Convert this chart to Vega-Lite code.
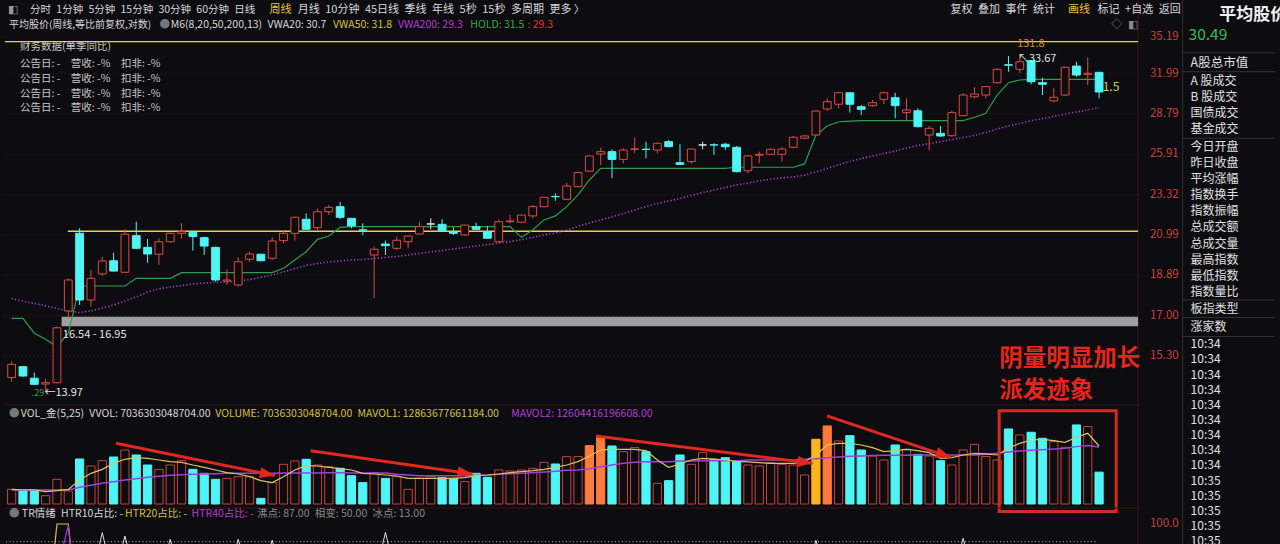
{
  "$schema": "https://vega.github.io/schema/vega-lite/v6.json",
  "description": "平均股价 周线 K线 + VOL_金 + TR情绪",
  "width": 1280,
  "height": 544,
  "padding": 0,
  "autosize": {"type": "none"},
  "background": "#0d0c10",
  "config": {"view": {"stroke": null}, "font": "Noto Sans CJK SC"},
  "datasets": {
    "k": [
      {"i":0,"o":14.46,"h":15.08,"l":14.31,"c":14.97,"hold":16.88,"vwa":17.78,"vol":3.24,"m5":3.24,"m25":3.1,"t10":58,"t20":20,"t40":20},
      {"i":1,"o":14.88,"h":14.9,"l":14.49,"c":14.52,"hold":16.88,"vwa":17.66,"vol":2.87,"m5":3.1,"m25":3.1,"t10":58,"t20":20,"t40":20},
      {"i":2,"o":14.44,"h":14.65,"l":14.19,"c":14.21,"hold":16.24,"vwa":17.55,"vol":2.87,"m5":3.1,"m25":3.1,"t10":58,"t20":20,"t40":20},
      {"i":3,"o":14.22,"h":14.4,"l":13.97,"c":14.27,"hold":15.98,"vwa":17.44,"vol":1.84,"m5":2.73,"m25":3.1,"t10":58,"t20":20,"t40":20},
      {"i":4,"o":14.27,"h":16.52,"l":14.24,"c":16.47,"hold":15.68,"vwa":17.32,"vol":5.45,"m5":2.95,"m25":3.1,"t10":58,"t20":100,"t40":65},
      {"i":5,"o":17.21,"h":18.74,"l":16.88,"c":18.66,"hold":16.24,"vwa":17.21,"vol":2.87,"m5":3.24,"m25":3.1,"t10":58,"t20":100,"t40":99},
      {"i":6,"o":21.08,"h":21.36,"l":17.48,"c":17.71,"hold":18.37,"vwa":17.14,"vol":9.95,"m5":5.31,"m25":3.69,"t10":58,"t20":20,"t40":20},
      {"i":7,"o":17.71,"h":19.15,"l":17.4,"c":18.74,"hold":18.37,"vwa":17.21,"vol":8.4,"m5":6.78,"m25":4.13,"t10":58,"t20":20,"t40":20},
      {"i":8,"o":18.96,"h":19.83,"l":18.86,"c":19.61,"hold":18.37,"vwa":17.34,"vol":9.58,"m5":7.66,"m25":4.57,"t10":93.6,"t20":20,"t40":20},
      {"i":9,"o":19.62,"h":20.04,"l":19.08,"c":19.1,"hold":18.37,"vwa":17.48,"vol":10.39,"m5":8.99,"m25":4.94,"t10":58,"t20":20,"t40":20},
      {"i":10,"o":19.04,"h":21.3,"l":19.02,"c":21.03,"hold":18.37,"vwa":17.66,"vol":11.94,"m5":9.88,"m25":5.31,"t10":91.2,"t20":20,"t40":20},
      {"i":11,"o":20.95,"h":21.73,"l":20.25,"c":20.27,"hold":18.74,"vwa":17.85,"vol":10.83,"m5":10.24,"m25":5.6,"t10":58,"t20":20,"t40":20},
      {"i":12,"o":20.32,"h":20.77,"l":19.52,"c":19.97,"hold":18.74,"vwa":18.08,"vol":8.62,"m5":10.1,"m25":5.9,"t10":58,"t20":20,"t40":20},
      {"i":13,"o":19.96,"h":20.81,"l":19.41,"c":20.62,"hold":18.74,"vwa":18.23,"vol":7.66,"m5":9.73,"m25":6.12,"t10":58,"t20":20,"t40":20},
      {"i":14,"o":20.62,"h":21.11,"l":20.57,"c":21.08,"hold":18.74,"vwa":18.32,"vol":8.62,"m5":9.36,"m25":6.34,"t10":88.8,"t20":20,"t40":20},
      {"i":15,"o":21.08,"h":21.64,"l":20.77,"c":21.17,"hold":19.02,"vwa":18.39,"vol":9.58,"m5":9.21,"m25":6.49,"t10":58,"t20":20,"t40":20},
      {"i":16,"o":21.14,"h":21.17,"l":20.14,"c":20.9,"hold":19.02,"vwa":18.47,"vol":7.66,"m5":8.62,"m25":6.56,"t10":58,"t20":20,"t40":20},
      {"i":17,"o":20.84,"h":20.9,"l":19.92,"c":20.39,"hold":19.02,"vwa":18.51,"vol":6.78,"m5":8.11,"m25":6.63,"t10":58,"t20":20,"t40":20},
      {"i":18,"o":20.32,"h":20.36,"l":18.58,"c":18.66,"hold":19.02,"vwa":18.54,"vol":5.45,"m5":7.52,"m25":6.71,"t10":58,"t20":20,"t40":20},
      {"i":19,"o":18.61,"h":19.19,"l":18.42,"c":18.66,"hold":19.02,"vwa":18.56,"vol":5.67,"m5":6.93,"m25":6.78,"t10":58,"t20":20,"t40":20},
      {"i":20,"o":18.42,"h":19.8,"l":18.34,"c":19.57,"hold":19.02,"vwa":18.61,"vol":6.04,"m5":6.63,"m25":6.78,"t10":88.8,"t20":20,"t40":20},
      {"i":21,"o":19.7,"h":20.09,"l":19.57,"c":19.97,"hold":19.02,"vwa":18.68,"vol":6.04,"m5":6.04,"m25":6.78,"t10":58,"t20":20,"t40":20},
      {"i":22,"o":19.96,"h":19.97,"l":19.61,"c":19.62,"hold":19.02,"vwa":18.78,"vol":1.25,"m5":5.16,"m25":6.78,"t10":58,"t20":20,"t40":20},
      {"i":23,"o":19.75,"h":20.86,"l":19.66,"c":20.66,"hold":19.02,"vwa":18.91,"vol":4.72,"m5":4.72,"m25":6.78,"t10":88.2,"t20":20,"t40":20},
      {"i":24,"o":20.68,"h":21.21,"l":20.54,"c":21.08,"hold":19.24,"vwa":19.05,"vol":8.77,"m5":6.04,"m25":6.85,"t10":58,"t20":20,"t40":20},
      {"i":25,"o":21.08,"h":22.02,"l":20.68,"c":21.98,"hold":19.66,"vwa":19.23,"vol":9.51,"m5":7.52,"m25":6.85,"t10":58,"t20":20,"t40":20},
      {"i":26,"o":21.87,"h":22.21,"l":21.26,"c":21.3,"hold":20.09,"vwa":19.38,"vol":9.88,"m5":8.48,"m25":6.85,"t10":58,"t20":20,"t40":20},
      {"i":27,"o":21.39,"h":22.5,"l":21.22,"c":22.3,"hold":20.75,"vwa":19.48,"vol":8.62,"m5":8.4,"m25":6.85,"t10":58,"t20":20,"t40":20},
      {"i":28,"o":22.3,"h":22.7,"l":22.11,"c":22.56,"hold":20.93,"vwa":19.56,"vol":8.25,"m5":8.11,"m25":6.93,"t10":58,"t20":20,"t40":20},
      {"i":29,"o":22.6,"h":22.89,"l":21.88,"c":21.98,"hold":21.41,"vwa":19.61,"vol":7.89,"m5":7.81,"m25":6.93,"t10":58,"t20":20,"t40":20},
      {"i":30,"o":21.92,"h":21.95,"l":21.36,"c":21.49,"hold":21.45,"vwa":19.66,"vol":6.26,"m5":7.52,"m25":6.85,"t10":58,"t20":20,"t40":20},
      {"i":31,"o":21.27,"h":21.64,"l":20.99,"c":21.26,"hold":21.45,"vwa":19.69,"vol":4.72,"m5":6.78,"m25":6.85,"t10":58,"t20":20,"t40":20},
      {"i":32,"o":19.92,"h":20.36,"l":17.79,"c":20.22,"hold":21.45,"vwa":19.74,"vol":6.93,"m5":6.63,"m25":6.85,"t10":58,"t20":20,"t40":20},
      {"i":33,"o":20.5,"h":20.68,"l":19.92,"c":20.41,"hold":21.45,"vwa":19.79,"vol":5.67,"m5":6.41,"m25":6.85,"t10":93.9,"t20":20,"t40":20},
      {"i":34,"o":20.27,"h":20.9,"l":20.18,"c":20.7,"hold":21.45,"vwa":19.84,"vol":6.04,"m5":6.19,"m25":6.56,"t10":58,"t20":20,"t40":20},
      {"i":35,"o":20.62,"h":20.95,"l":20.27,"c":20.93,"hold":21.45,"vwa":19.92,"vol":3.24,"m5":5.67,"m25":6.41,"t10":58,"t20":20,"t40":20},
      {"i":36,"o":21.04,"h":21.73,"l":21.02,"c":21.45,"hold":21.45,"vwa":20.0,"vol":5.67,"m5":5.67,"m25":6.23,"t10":58,"t20":20,"t40":20},
      {"i":37,"o":21.6,"h":21.92,"l":21.3,"c":21.6,"hold":21.45,"vwa":20.08,"vol":6.04,"m5":5.67,"m25":6.23,"t10":58,"t20":20,"t40":20},
      {"i":38,"o":21.58,"h":21.87,"l":21.21,"c":21.22,"hold":21.45,"vwa":20.15,"vol":5.82,"m5":5.67,"m25":6.23,"t10":58,"t20":20,"t40":20},
      {"i":39,"o":21.17,"h":21.41,"l":20.99,"c":21.08,"hold":21.45,"vwa":20.23,"vol":5.67,"m5":5.67,"m25":6.23,"t10":58,"t20":20,"t40":20},
      {"i":40,"o":20.99,"h":21.55,"l":20.93,"c":21.54,"hold":21.45,"vwa":20.31,"vol":4.94,"m5":5.82,"m25":6.26,"t10":58,"t20":20,"t40":20},
      {"i":41,"o":21.45,"h":21.67,"l":21.26,"c":21.3,"hold":21.45,"vwa":20.39,"vol":6.78,"m5":6.26,"m25":6.34,"t10":58,"t20":20,"t40":20},
      {"i":42,"o":21.17,"h":21.49,"l":20.8,"c":20.81,"hold":21.45,"vwa":20.47,"vol":5.9,"m5":6.41,"m25":6.41,"t10":58,"t20":20,"t40":20},
      {"i":43,"o":20.62,"h":21.83,"l":20.57,"c":21.73,"hold":21.45,"vwa":20.55,"vol":7.52,"m5":6.63,"m25":6.56,"t10":58,"t20":20,"t40":20},
      {"i":44,"o":21.73,"h":22.11,"l":21.64,"c":21.77,"hold":21.45,"vwa":20.63,"vol":7.3,"m5":6.93,"m25":6.71,"t10":58,"t20":20,"t40":20},
      {"i":45,"o":21.7,"h":22.12,"l":21.64,"c":22.11,"hold":20.86,"vwa":20.74,"vol":7.52,"m5":7.15,"m25":6.78,"t10":58,"t20":20,"t40":20},
      {"i":46,"o":22.06,"h":22.7,"l":21.92,"c":22.6,"hold":21.26,"vwa":20.85,"vol":7.89,"m5":7.37,"m25":6.93,"t10":58,"t20":20,"t40":20},
      {"i":47,"o":22.6,"h":23.17,"l":22.56,"c":23.16,"hold":21.83,"vwa":20.99,"vol":9.21,"m5":7.66,"m25":7.08,"t10":58,"t20":20,"t40":20},
      {"i":48,"o":23.21,"h":23.4,"l":22.95,"c":23.19,"hold":22.06,"vwa":21.1,"vol":8.84,"m5":8.11,"m25":7.22,"t10":58,"t20":20,"t40":20},
      {"i":49,"o":23.04,"h":24.06,"l":22.99,"c":23.85,"hold":22.6,"vwa":21.26,"vol":10.47,"m5":8.62,"m25":7.44,"t10":58,"t20":20,"t40":20},
      {"i":50,"o":23.81,"h":24.76,"l":23.77,"c":24.7,"hold":23.3,"vwa":21.46,"vol":10.47,"m5":9.36,"m25":7.52,"t10":58,"t20":20,"t40":20},
      {"i":51,"o":24.8,"h":25.81,"l":24.76,"c":25.8,"hold":24.23,"vwa":21.66,"vol":12.9,"m5":10.61,"m25":7.81,"t10":58,"t20":20,"t40":20,"flag":"倍量"},
      {"i":52,"o":25.93,"h":26.36,"l":25.2,"c":26.09,"hold":24.98,"vwa":21.83,"vol":14.89,"m5":11.94,"m25":8.25,"t10":58,"t20":20,"t40":20,"flag":"倍量"},
      {"i":53,"o":26.09,"h":26.25,"l":24.34,"c":25.57,"hold":24.98,"vwa":22.0,"vol":12.82,"m5":12.09,"m25":8.62,"t10":58,"t20":20,"t40":20},
      {"i":54,"o":25.57,"h":26.32,"l":25.31,"c":26.2,"hold":24.98,"vwa":22.2,"vol":11.57,"m5":12.09,"m25":8.99,"t10":58,"t20":20,"t40":20},
      {"i":55,"o":26.25,"h":27.06,"l":26.02,"c":26.28,"hold":24.98,"vwa":22.4,"vol":12.46,"m5":12.09,"m25":9.21,"t10":58,"t20":20,"t40":20},
      {"i":56,"o":26.26,"h":26.78,"l":25.64,"c":26.24,"hold":24.98,"vwa":22.61,"vol":11.57,"m5":11.79,"m25":9.36,"t10":58,"t20":20,"t40":20},
      {"i":57,"o":26.2,"h":26.71,"l":25.98,"c":26.67,"hold":24.98,"vwa":22.79,"vol":4.57,"m5":9.73,"m25":9.36,"t10":58,"t20":20,"t40":20},
      {"i":58,"o":26.78,"h":26.9,"l":26.39,"c":26.43,"hold":24.98,"vwa":22.93,"vol":5.16,"m5":8.11,"m25":9.36,"t10":58,"t20":20,"t40":20},
      {"i":59,"o":25.35,"h":26.6,"l":25.2,"c":25.24,"hold":24.98,"vwa":23.09,"vol":10.83,"m5":8.84,"m25":9.51,"t10":58,"t20":20,"t40":20},
      {"i":60,"o":25.42,"h":26.32,"l":25.26,"c":26.27,"hold":24.98,"vwa":23.27,"vol":8.77,"m5":9.73,"m25":9.51,"t10":58,"t20":20,"t40":20},
      {"i":61,"o":26.55,"h":26.78,"l":26.25,"c":26.55,"hold":24.98,"vwa":23.45,"vol":11.35,"m5":10.1,"m25":9.55,"t10":58,"t20":20,"t40":20},
      {"i":62,"o":26.56,"h":26.67,"l":25.87,"c":26.55,"hold":24.98,"vwa":23.6,"vol":9.88,"m5":9.95,"m25":9.55,"t10":58,"t20":20,"t40":20},
      {"i":63,"o":26.6,"h":26.71,"l":26.2,"c":26.43,"hold":24.98,"vwa":23.76,"vol":10.24,"m5":9.73,"m25":9.58,"t10":58,"t20":20,"t40":20},
      {"i":64,"o":26.39,"h":26.48,"l":24.72,"c":24.76,"hold":25.05,"vwa":23.92,"vol":9.36,"m5":9.43,"m25":9.58,"t10":58,"t20":20,"t40":20},
      {"i":65,"o":24.82,"h":25.87,"l":24.66,"c":25.8,"hold":25.05,"vwa":24.04,"vol":8.62,"m5":9.29,"m25":9.73,"t10":58,"t20":20,"t40":20},
      {"i":66,"o":25.85,"h":26.09,"l":25.31,"c":25.91,"hold":25.05,"vwa":24.17,"vol":8.4,"m5":9.14,"m25":9.73,"t10":58,"t20":20,"t40":20},
      {"i":67,"o":25.91,"h":26.32,"l":25.88,"c":26.25,"hold":25.05,"vwa":24.29,"vol":9.14,"m5":8.99,"m25":9.73,"t10":58,"t20":20,"t40":20},
      {"i":68,"o":25.91,"h":26.39,"l":25.42,"c":26.27,"hold":25.05,"vwa":24.36,"vol":8.77,"m5":8.99,"m25":9.73,"t10":58,"t20":20,"t40":20},
      {"i":69,"o":26.39,"h":27.18,"l":26.32,"c":27.09,"hold":25.05,"vwa":24.42,"vol":8.62,"m5":8.99,"m25":9.73,"t10":58,"t20":20,"t40":20},
      {"i":70,"o":27.02,"h":27.25,"l":26.95,"c":27.18,"hold":25.27,"vwa":24.55,"vol":6.41,"m5":9.36,"m25":9.88,"t10":58,"t20":20,"t40":20},
      {"i":71,"o":27.25,"h":29.09,"l":27.2,"c":29.01,"hold":27.25,"vwa":24.74,"vol":14.3,"m5":10.83,"m25":10.02,"t10":88,"t20":20,"t40":20,"flag":"天量"},
      {"i":72,"o":29.17,"h":29.99,"l":29.03,"c":29.73,"hold":27.9,"vwa":24.97,"vol":17.25,"m5":13.04,"m25":10.24,"t10":58,"t20":20,"t40":20,"flag":"倍量"},
      {"i":73,"o":29.53,"h":30.51,"l":29.22,"c":30.43,"hold":28.21,"vwa":25.2,"vol":13.93,"m5":13.41,"m25":10.39,"t10":58,"t20":20,"t40":20},
      {"i":74,"o":30.43,"h":30.45,"l":28.89,"c":29.53,"hold":28.26,"vwa":25.43,"vol":15.11,"m5":13.41,"m25":10.54,"t10":58,"t20":20,"t40":20},
      {"i":75,"o":29.34,"h":29.47,"l":28.71,"c":29.14,"hold":28.3,"vwa":25.63,"vol":11.94,"m5":13.04,"m25":10.61,"t10":58,"t20":20,"t40":20},
      {"i":76,"o":29.42,"h":29.86,"l":29.34,"c":29.65,"hold":28.3,"vwa":25.8,"vol":10.61,"m5":12.46,"m25":10.7,"t10":58,"t20":20,"t40":20},
      {"i":77,"o":29.91,"h":30.51,"l":29.55,"c":30.43,"hold":28.3,"vwa":25.97,"vol":9.73,"m5":11.57,"m25":10.75,"t10":58,"t20":20,"t40":20},
      {"i":78,"o":30.04,"h":30.43,"l":28.47,"c":29.42,"hold":28.3,"vwa":26.13,"vol":13.04,"m5":11.79,"m25":10.78,"t10":58,"t20":20,"t40":20},
      {"i":79,"o":28.89,"h":29.99,"l":28.34,"c":29.09,"hold":28.3,"vwa":26.34,"vol":12.09,"m5":12.09,"m25":10.8,"t10":58,"t20":20,"t40":20},
      {"i":80,"o":29.03,"h":29.22,"l":27.8,"c":27.85,"hold":28.3,"vwa":26.52,"vol":10.98,"m5":11.79,"m25":10.83,"t10":58,"t20":20,"t40":20},
      {"i":81,"o":27.25,"h":27.9,"l":26.2,"c":27.73,"hold":28.3,"vwa":26.65,"vol":10.61,"m5":11.35,"m25":10.83,"t10":58,"t20":20,"t40":20},
      {"i":82,"o":27.37,"h":27.9,"l":27.13,"c":27.18,"hold":28.3,"vwa":26.79,"vol":9.58,"m5":10.1,"m25":10.83,"t10":58,"t20":20,"t40":20},
      {"i":83,"o":27.2,"h":29.04,"l":27.13,"c":28.89,"hold":28.3,"vwa":26.93,"vol":8.62,"m5":10.24,"m25":10.83,"t10":58,"t20":20,"t40":20},
      {"i":84,"o":28.66,"h":30.39,"l":28.64,"c":30.25,"hold":28.3,"vwa":27.07,"vol":11.94,"m5":10.83,"m25":10.83,"t10":89.5,"t20":20,"t40":20},
      {"i":85,"o":30.11,"h":30.87,"l":29.99,"c":30.33,"hold":28.54,"vwa":27.22,"vol":13.19,"m5":11.2,"m25":10.83,"t10":58,"t20":20,"t40":20},
      {"i":86,"o":30.25,"h":30.97,"l":29.99,"c":30.92,"hold":28.84,"vwa":27.43,"vol":10.47,"m5":11.06,"m25":10.98,"t10":58,"t20":20,"t40":20},
      {"i":87,"o":31.24,"h":32.44,"l":31.19,"c":32.35,"hold":30.25,"vwa":27.68,"vol":9.73,"m5":10.83,"m25":11.2,"t10":58,"t20":20,"t40":20},
      {"i":88,"o":32.74,"h":33.5,"l":32.15,"c":32.7,"hold":31.24,"vwa":27.9,"vol":16.58,"m5":12.31,"m25":11.5,"t10":58,"t20":20,"t40":20},
      {"i":89,"o":32.35,"h":33.67,"l":32.02,"c":33.0,"hold":31.46,"vwa":28.08,"vol":15.26,"m5":13.41,"m25":11.72,"t10":58,"t20":20,"t40":20},
      {"i":90,"o":33.09,"h":33.15,"l":31.11,"c":31.32,"hold":31.51,"vwa":28.3,"vol":15.85,"m5":14.15,"m25":11.87,"t10":58,"t20":20,"t40":20},
      {"i":91,"o":31.24,"h":31.65,"l":30.25,"c":31.11,"hold":31.51,"vwa":28.45,"vol":14.52,"m5":14.3,"m25":12.01,"t10":58,"t20":20,"t40":20},
      {"i":92,"o":29.8,"h":30.79,"l":29.65,"c":30.07,"hold":31.51,"vwa":28.6,"vol":13.78,"m5":14.0,"m25":12.16,"t10":58,"t20":20,"t40":20},
      {"i":93,"o":30.25,"h":32.57,"l":30.17,"c":32.52,"hold":31.51,"vwa":28.79,"vol":12.53,"m5":13.63,"m25":12.31,"t10":58,"t20":20,"t40":20},
      {"i":94,"o":32.63,"h":33.0,"l":31.73,"c":31.87,"hold":31.51,"vwa":28.94,"vol":17.47,"m5":14.74,"m25":12.68,"t10":58,"t20":20,"t40":20},
      {"i":95,"o":31.93,"h":33.38,"l":31.05,"c":32.02,"hold":31.51,"vwa":29.09,"vol":17.1,"m5":15.62,"m25":12.9,"t10":58,"t20":20,"t40":20},
      {"i":96,"o":32.1,"h":32.12,"l":29.99,"c":30.49,"hold":31.51,"vwa":29.28,"vol":7.04,"m5":12.82,"m25":12.6,"t10":58,"t20":20,"t40":20}
    ],
    "arrows": [
      {"a":1,"i0":9.21,"v0":13.42,"i1":23.24,"v1":6.3},
      {"a":2,"i0":26.39,"v0":11.78,"i1":40.69,"v1":6.63},
      {"a":3,"i0":51.59,"v0":15.03,"i1":70.7,"v1":9.0},
      {"a":4,"i0":71.98,"v0":19.46,"i1":82.9,"v1":10.32}
    ],
    "ticks": [{"p":15.3},{"p":17},{"p":18.89},{"p":20.99},{"p":23.32},{"p":25.91},{"p":28.79},{"p":31.99},{"p":35.19}]
  },
  "data": {"name": "k"},
  "layer": [
    {
      "layer": [
        {"data": {"values": [{}]}, "mark": {"type": "rule", "color": "#3a1616", "strokeWidth": 1},
         "encoding": {"x": {"datum": 99.44, "type": "quantitative", "scale": {"domain": [-0.587, 111.53], "nice": false, "zero": false}, "axis": null}}},
        {"data": {"values": [{}]}, "mark": {"type": "rule", "color": "#2e2e30", "strokeWidth": 1},
         "encoding": {"x": {"datum": 103.38, "type": "quantitative", "scale": {"domain": [-0.587, 111.53], "nice": false, "zero": false}, "axis": null}}},
        {"data": {"name": "ticks"}, "mark": {"type": "rule", "color": "#3a2020", "strokeWidth": 1, "strokeDash": [1, 3]},
         "encoding": {
           "x": {"datum": -0.587, "type": "quantitative", "scale": {"domain": [-0.587, 111.53], "nice": false, "zero": false}, "axis": null},
           "x2": {"datum": 99.44},
           "y": {"field": "p", "type": "quantitative", "scale": {"type": "log", "domain": [13.8, 36], "range": [395.5, 28.4], "nice": false}, "axis": null}}},
        {"data": {"values": [{}]}, "mark": {"type": "rule", "color": "#333336", "strokeWidth": 1},
         "encoding": {
           "x": {"datum": 103.38, "type": "quantitative", "scale": {"domain": [-0.587, 111.53], "nice": false, "zero": false}, "axis": null},
           "x2": {"datum": 111.53},
           "y": {"datum": 33.78, "type": "quantitative", "scale": {"type": "log", "domain": [13.8, 36], "range": [395.5, 28.4], "nice": false}, "axis": null}}},
        {"data": {"values": [{}]}, "mark": {"type": "rule", "color": "#333336", "strokeWidth": 1},
         "encoding": {
           "x": {"datum": 103.38, "type": "quantitative", "scale": {"domain": [-0.587, 111.53], "nice": false, "zero": false}, "axis": null},
           "x2": {"datum": 111.53},
           "y": {"datum": 32.15, "type": "quantitative", "scale": {"type": "log", "domain": [13.8, 36], "range": [395.5, 28.4], "nice": false}, "axis": null}}},
        {"data": {"values": [{}]}, "mark": {"type": "rule", "color": "#333336", "strokeWidth": 1},
         "encoding": {
           "x": {"datum": 103.38, "type": "quantitative", "scale": {"domain": [-0.587, 111.53], "nice": false, "zero": false}, "axis": null},
           "x2": {"datum": 111.53},
           "y": {"datum": 27.02, "type": "quantitative", "scale": {"type": "log", "domain": [13.8, 36], "range": [395.5, 28.4], "nice": false}, "axis": null}}},
        {"data": {"values": [{}]}, "mark": {"type": "rule", "color": "#333336", "strokeWidth": 1},
         "encoding": {
           "x": {"datum": 103.38, "type": "quantitative", "scale": {"domain": [-0.587, 111.53], "nice": false, "zero": false}, "axis": null},
           "x2": {"datum": 111.53},
           "y": {"datum": 17.71, "type": "quantitative", "scale": {"type": "log", "domain": [13.8, 36], "range": [395.5, 28.4], "nice": false}, "axis": null}}},
        {"data": {"values": [{}]}, "mark": {"type": "rule", "color": "#333336", "strokeWidth": 1},
         "encoding": {
           "x": {"datum": 103.38, "type": "quantitative", "scale": {"domain": [-0.587, 111.53], "nice": false, "zero": false}, "axis": null},
           "x2": {"datum": 111.53},
           "y": {"datum": 16.92, "type": "quantitative", "scale": {"type": "log", "domain": [13.8, 36], "range": [395.5, 28.4], "nice": false}, "axis": null}}},
        {"data": {"values": [{}]}, "mark": {"type": "rule", "color": "#333336", "strokeWidth": 1},
         "encoding": {
           "x": {"datum": 103.38, "type": "quantitative", "scale": {"domain": [-0.587, 111.53], "nice": false, "zero": false}, "axis": null},
           "x2": {"datum": 111.53},
           "y": {"datum": 16.1, "type": "quantitative", "scale": {"type": "log", "domain": [13.8, 36], "range": [395.5, 28.4], "nice": false}, "axis": null}}},
        {"data": {"values": [{}]}, "mark": {"type": "rect", "color": "#9f9f9f"},
         "encoding": {
           "x": {"datum": 4.41, "type": "quantitative", "scale": {"domain": [-0.587, 111.53], "nice": false, "zero": false}, "axis": null},
           "x2": {"datum": 99.44},
           "y": {"datum": 16.54, "type": "quantitative", "scale": {"type": "log", "domain": [13.8, 36], "range": [395.5, 28.4], "nice": false}, "axis": null},
           "y2": {"datum": 16.95}}},
        {"data": {"values": [{}]}, "mark": {"type": "rule", "color": "#e5d540", "strokeWidth": 1.4},
         "encoding": {
           "x": {"datum": -0.587, "type": "quantitative", "scale": {"domain": [-0.587, 111.53], "nice": false, "zero": false}, "axis": null},
           "x2": {"datum": 99.44},
           "y": {"datum": 34.78, "type": "quantitative", "scale": {"type": "log", "domain": [13.8, 36], "range": [395.5, 28.4], "nice": false}, "axis": null}}},
        {"data": {"values": [{}]}, "mark": {"type": "rule", "color": "#e5d540", "strokeWidth": 1.4},
         "encoding": {
           "x": {"datum": 4.96, "type": "quantitative", "scale": {"domain": [-0.587, 111.53], "nice": false, "zero": false}, "axis": null},
           "x2": {"datum": 99.44},
           "y": {"datum": 21.19, "type": "quantitative", "scale": {"type": "log", "domain": [13.8, 36], "range": [395.5, 28.4], "nice": false}, "axis": null}}},
        {"data": {"values": [{}]}, "mark": {"type": "text", "text": "31.5", "align": "left", "baseline": "middle", "fontSize": 12, "color": "#c8d24a"},
         "encoding": {
           "x": {"datum": 95.73, "type": "quantitative", "scale": {"domain": [-0.587, 111.53], "nice": false, "zero": false}, "axis": null},
           "y": {"datum": 30.89, "type": "quantitative", "scale": {"type": "log", "domain": [13.8, 36], "range": [395.5, 28.4], "nice": false}, "axis": null}}},
        {"mark": {"type": "line", "color": "#b040d8", "strokeWidth": 1.6, "strokeDash": [1.2, 2.2]},
         "encoding": {
           "x": {"field": "i", "type": "quantitative", "scale": {"domain": [-0.587, 111.53], "nice": false, "zero": false}, "axis": null},
           "y": {"field": "vwa", "type": "quantitative", "scale": {"type": "log", "domain": [13.8, 36], "range": [395.5, 28.4], "nice": false}, "axis": null}}},
        {"mark": {"type": "line", "color": "#2f9e4a", "strokeWidth": 1.2},
         "encoding": {
           "x": {"field": "i", "type": "quantitative", "scale": {"domain": [-0.587, 111.53], "nice": false, "zero": false}, "axis": null},
           "y": {"field": "hold", "type": "quantitative", "scale": {"type": "log", "domain": [13.8, 36], "range": [395.5, 28.4], "nice": false}, "axis": null}}},
        {"mark": {"type": "rule", "strokeWidth": 1},
         "encoding": {
           "x": {"field": "i", "type": "quantitative", "scale": {"domain": [-0.587, 111.53], "nice": false, "zero": false}, "axis": null},
           "y": {"field": "l", "type": "quantitative", "scale": {"type": "log", "domain": [13.8, 36], "range": [395.5, 28.4], "nice": false}, "axis": null},
           "y2": {"field": "h"},
           "color": {"condition": [{"test": "datum.c < datum.o", "value": "#4ff5f5"}, {"test": "datum.c == datum.o", "value": "#e6e6e6"}], "value": "#e04a3f"}}},
        {"mark": {"type": "bar", "width": 7.8, "strokeWidth": 1, "orient": "vertical"},
         "encoding": {
           "x": {"field": "i", "type": "quantitative", "scale": {"domain": [-0.587, 111.53], "nice": false, "zero": false}, "axis": null},
           "y": {"field": "o", "type": "quantitative", "scale": {"type": "log", "domain": [13.8, 36], "range": [395.5, 28.4], "nice": false}, "axis": null},
           "y2": {"field": "c"},
           "fill": {"condition": [{"test": "datum.c < datum.o", "value": "#4ff5f5"}, {"test": "datum.c == datum.o", "value": "#e6e6e6"}], "value": "#0d0c10"},
           "stroke": {"condition": [{"test": "datum.c < datum.o", "value": "#4ff5f5"}, {"test": "datum.c == datum.o", "value": "#e6e6e6"}], "value": "#e04a3f"}}},
        {"data": {"name": "ticks"}, "mark": {"type": "text", "align": "right", "baseline": "middle", "fontSize": 11.5, "color": "#c8423c"},
         "encoding": {
           "x": {"datum": 103.03, "type": "quantitative", "scale": {"domain": [-0.587, 111.53], "nice": false, "zero": false}, "axis": null},
           "y": {"field": "p", "type": "quantitative", "scale": {"type": "log", "domain": [13.8, 36], "range": [395.5, 28.4], "nice": false}, "axis": null},
           "text": {"field": "p", "type": "quantitative", "format": ".2f"}}},
        {"data": {"values": [{}]}, "mark": {"type": "text", "text": "◧", "align": "left", "baseline": "middle", "fontSize": 11, "color": "#9a9a9a"},
         "encoding": {
           "x": {"datum": -0.3, "type": "quantitative", "scale": {"domain": [-0.587, 111.53], "nice": false, "zero": false}, "axis": null},
           "y": {"datum": 37.77, "type": "quantitative", "scale": {"type": "log", "domain": [13.8, 36], "range": [395.5, 28.4], "nice": false}, "axis": null}}},
        {"data": {"values": [{}]}, "mark": {"type": "text", "text": "分时\u20021分钟\u20025分钟\u200215分钟\u200230分钟\u200260分钟\u2002日线", "align": "left", "baseline": "middle", "fontSize": 10.5, "color": "#d8d8d8"},
         "encoding": {
           "x": {"datum": 1.63, "type": "quantitative", "scale": {"domain": [-0.587, 111.53], "nice": false, "zero": false}, "axis": null},
           "y": {"datum": 37.77, "type": "quantitative", "scale": {"type": "log", "domain": [13.8, 36], "range": [395.5, 28.4], "nice": false}, "axis": null}}},
        {"data": {"values": [{}]}, "mark": {"type": "text", "text": "周线", "align": "left", "baseline": "middle", "fontSize": 11, "color": "#e3c33a"},
         "encoding": {
           "x": {"datum": 22.76, "type": "quantitative", "scale": {"domain": [-0.587, 111.53], "nice": false, "zero": false}, "axis": null},
           "y": {"datum": 37.77, "type": "quantitative", "scale": {"type": "log", "domain": [13.8, 36], "range": [395.5, 28.4], "nice": false}, "axis": null}}},
        {"data": {"values": [{}]}, "mark": {"type": "text", "text": "月线\u200210分钟\u200245日线\u2002季线\u2002年线\u20025秒\u200215秒\u2002多周期\u2002更多 〉", "align": "left", "baseline": "middle", "fontSize": 11, "color": "#d8d8d8"},
         "encoding": {
           "x": {"datum": 25.25, "type": "quantitative", "scale": {"domain": [-0.587, 111.53], "nice": false, "zero": false}, "axis": null},
           "y": {"datum": 37.77, "type": "quantitative", "scale": {"type": "log", "domain": [13.8, 36], "range": [395.5, 28.4], "nice": false}, "axis": null}}},
        {"data": {"values": [{}]}, "mark": {"type": "text", "text": "复权\u2002叠加\u2002事件\u2002统计", "align": "left", "baseline": "middle", "fontSize": 11, "color": "#d8d8d8"},
         "encoding": {
           "x": {"datum": 82.89, "type": "quantitative", "scale": {"domain": [-0.587, 111.53], "nice": false, "zero": false}, "axis": null},
           "y": {"datum": 37.77, "type": "quantitative", "scale": {"type": "log", "domain": [13.8, 36], "range": [395.5, 28.4], "nice": false}, "axis": null}}},
        {"data": {"values": [{}]}, "mark": {"type": "text", "text": "画线", "align": "left", "baseline": "middle", "fontSize": 11, "color": "#e3c33a"},
         "encoding": {
           "x": {"datum": 93.25, "type": "quantitative", "scale": {"domain": [-0.587, 111.53], "nice": false, "zero": false}, "axis": null},
           "y": {"datum": 37.77, "type": "quantitative", "scale": {"type": "log", "domain": [13.8, 36], "range": [395.5, 28.4], "nice": false}, "axis": null}}},
        {"data": {"values": [{}]}, "mark": {"type": "text", "text": "标记\u2002+自选\u2002返回", "align": "left", "baseline": "middle", "fontSize": 11, "color": "#d8d8d8"},
         "encoding": {
           "x": {"datum": 95.87, "type": "quantitative", "scale": {"domain": [-0.587, 111.53], "nice": false, "zero": false}, "axis": null},
           "y": {"datum": 37.77, "type": "quantitative", "scale": {"type": "log", "domain": [13.8, 36], "range": [395.5, 28.4], "nice": false}, "axis": null}}},
        {"data": {"values": [{}]}, "mark": {"type": "text", "text": "平均股价(周线,等比前复权,对数)", "align": "left", "baseline": "middle", "fontSize": 10, "color": "#d8d8d8"},
         "encoding": {
           "x": {"datum": -0.24, "type": "quantitative", "scale": {"domain": [-0.587, 111.53], "nice": false, "zero": false}, "axis": null},
           "y": {"datum": 36.29, "type": "quantitative", "scale": {"type": "log", "domain": [13.8, 36], "range": [395.5, 28.4], "nice": false}, "axis": null}}},
        {"data": {"values": [{}]}, "mark": {"type": "text", "text": "●", "align": "left", "baseline": "middle", "fontSize": 10.5, "color": "#777777"},
         "encoding": {
           "x": {"datum": 13.05, "type": "quantitative", "scale": {"domain": [-0.587, 111.53], "nice": false, "zero": false}, "axis": null},
           "y": {"datum": 36.29, "type": "quantitative", "scale": {"type": "log", "domain": [13.8, 36], "range": [395.5, 28.4], "nice": false}, "axis": null}}},
        {"data": {"values": [{}]}, "mark": {"type": "text", "text": "M6(8,20,50,200,13)", "align": "left", "baseline": "middle", "fontSize": 10.5, "color": "#d8d8d8"},
         "encoding": {
           "x": {"datum": 14.04, "type": "quantitative", "scale": {"domain": [-0.587, 111.53], "nice": false, "zero": false}, "axis": null},
           "y": {"datum": 36.29, "type": "quantitative", "scale": {"type": "log", "domain": [13.8, 36], "range": [395.5, 28.4], "nice": false}, "axis": null}}},
        {"data": {"values": [{}]}, "mark": {"type": "text", "text": "VWA20: 30.7", "align": "left", "baseline": "middle", "fontSize": 10.5, "color": "#d8d8d8"},
         "encoding": {
           "x": {"datum": 22.58, "type": "quantitative", "scale": {"domain": [-0.587, 111.53], "nice": false, "zero": false}, "axis": null},
           "y": {"datum": 36.29, "type": "quantitative", "scale": {"type": "log", "domain": [13.8, 36], "range": [395.5, 28.4], "nice": false}, "axis": null}}},
        {"data": {"values": [{}]}, "mark": {"type": "text", "text": "VWA50: 31.8", "align": "left", "baseline": "middle", "fontSize": 10.5, "color": "#d6c03e"},
         "encoding": {
           "x": {"datum": 28.37, "type": "quantitative", "scale": {"domain": [-0.587, 111.53], "nice": false, "zero": false}, "axis": null},
           "y": {"datum": 36.29, "type": "quantitative", "scale": {"type": "log", "domain": [13.8, 36], "range": [395.5, 28.4], "nice": false}, "axis": null}}},
        {"data": {"values": [{}]}, "mark": {"type": "text", "text": "VWA200: 29.3", "align": "left", "baseline": "middle", "fontSize": 10.5, "color": "#b23cd4"},
         "encoding": {
           "x": {"datum": 34.1, "type": "quantitative", "scale": {"domain": [-0.587, 111.53], "nice": false, "zero": false}, "axis": null},
           "y": {"datum": 36.29, "type": "quantitative", "scale": {"type": "log", "domain": [13.8, 36], "range": [395.5, 28.4], "nice": false}, "axis": null}}},
        {"data": {"values": [{}]}, "mark": {"type": "text", "text": "HOLD: 31.5", "align": "left", "baseline": "middle", "fontSize": 10.5, "color": "#33a84b"},
         "encoding": {
           "x": {"datum": 40.49, "type": "quantitative", "scale": {"domain": [-0.587, 111.53], "nice": false, "zero": false}, "axis": null},
           "y": {"datum": 36.29, "type": "quantitative", "scale": {"type": "log", "domain": [13.8, 36], "range": [395.5, 28.4], "nice": false}, "axis": null}}},
        {"data": {"values": [{}]}, "mark": {"type": "text", "text": ": 29.3", "align": "left", "baseline": "middle", "fontSize": 10.5, "color": "#e03535"},
         "encoding": {
           "x": {"datum": 45.53, "type": "quantitative", "scale": {"domain": [-0.587, 111.53], "nice": false, "zero": false}, "axis": null},
           "y": {"datum": 36.29, "type": "quantitative", "scale": {"type": "log", "domain": [13.8, 36], "range": [395.5, 28.4], "nice": false}, "axis": null}}},
        {"data": {"values": [{}]}, "mark": {"type": "text", "text": "◇\u2002◧", "align": "left", "baseline": "middle", "fontSize": 11, "color": "#8a8a8a"},
         "encoding": {
           "x": {"datum": 97.08, "type": "quantitative", "scale": {"domain": [-0.587, 111.53], "nice": false, "zero": false}, "axis": null},
           "y": {"datum": 36.29, "type": "quantitative", "scale": {"type": "log", "domain": [13.8, 36], "range": [395.5, 28.4], "nice": false}, "axis": null}}},
        {"data": {"values": [{}]}, "mark": {"type": "text", "text": "财务数据(单季同比)", "align": "left", "baseline": "middle", "fontSize": 10.5, "color": "#c8c8c8"},
         "encoding": {
           "x": {"datum": 0.73, "type": "quantitative", "scale": {"domain": [-0.587, 111.53], "nice": false, "zero": false}, "axis": null},
           "y": {"datum": 34.29, "type": "quantitative", "scale": {"type": "log", "domain": [13.8, 36], "range": [395.5, 28.4], "nice": false}, "axis": null}}},
        {"data": {"values": [{}]}, "mark": {"type": "text", "text": ["公告日: -\u2002\u2002营收: -%\u2002\u2002扣非: -%", "公告日: -\u2002\u2002营收: -%\u2002\u2002扣非: -%", "公告日: -\u2002\u2002营收: -%\u2002\u2002扣非: -%", "公告日: -\u2002\u2002营收: -%\u2002\u2002扣非: -%"], "lineHeight": 14.67, "align": "left", "baseline": "top", "fontSize": 10.5, "color": "#c8c8c8"},
         "encoding": {
           "x": {"datum": 0.73, "type": "quantitative", "scale": {"domain": [-0.587, 111.53], "nice": false, "zero": false}, "axis": null},
           "y": {"datum": 33.21, "type": "quantitative", "scale": {"type": "log", "domain": [13.8, 36], "range": [395.5, 28.4], "nice": false}, "axis": null}}},
        {"data": {"values": [{}]}, "mark": {"type": "text", "text": "131.8", "align": "center", "baseline": "middle", "fontSize": 11, "color": "#d98a3a"},
         "encoding": {
           "x": {"datum": 89.98, "type": "quantitative", "scale": {"domain": [-0.587, 111.53], "nice": false, "zero": false}, "axis": null},
           "y": {"datum": 34.56, "type": "quantitative", "scale": {"type": "log", "domain": [13.8, 36], "range": [395.5, 28.4], "nice": false}, "axis": null}}},
        {"data": {"values": [{}]}, "mark": {"type": "text", "text": "↖33.67", "align": "left", "baseline": "middle", "fontSize": 11, "color": "#e0e0e0"},
         "encoding": {
           "x": {"datum": 88.84, "type": "quantitative", "scale": {"domain": [-0.587, 111.53], "nice": false, "zero": false}, "axis": null},
           "y": {"datum": 33.21, "type": "quantitative", "scale": {"type": "log", "domain": [13.8, 36], "range": [395.5, 28.4], "nice": false}, "axis": null}}},
        {"data": {"values": [{}]}, "mark": {"type": "text", "text": "16.54 - 16.95", "align": "left", "baseline": "middle", "fontSize": 11, "color": "#e6e6e6"},
         "encoding": {
           "x": {"datum": 4.52, "type": "quantitative", "scale": {"domain": [-0.587, 111.53], "nice": false, "zero": false}, "axis": null},
           "y": {"datum": 16.15, "type": "quantitative", "scale": {"type": "log", "domain": [13.8, 36], "range": [395.5, 28.4], "nice": false}, "axis": null}}},
        {"data": {"values": [{}]}, "mark": {"type": "text", "text": ".29", "align": "left", "baseline": "middle", "fontSize": 9, "color": "#2f9e4a"},
         "encoding": {
           "x": {"datum": 1.78, "type": "quantitative", "scale": {"domain": [-0.587, 111.53], "nice": false, "zero": false}, "axis": null},
           "y": {"datum": 13.9, "type": "quantitative", "scale": {"type": "log", "domain": [13.8, 36], "range": [395.5, 28.4], "nice": false}, "axis": null}}},
        {"data": {"values": [{}]}, "mark": {"type": "text", "text": "←13.97", "align": "left", "baseline": "middle", "fontSize": 11, "color": "#e6e6e6"},
         "encoding": {
           "x": {"datum": 2.9, "type": "quantitative", "scale": {"domain": [-0.587, 111.53], "nice": false, "zero": false}, "axis": null},
           "y": {"datum": 13.9, "type": "quantitative", "scale": {"type": "log", "domain": [13.8, 36], "range": [395.5, 28.4], "nice": false}, "axis": null}}},
        {"data": {"values": [{}]}, "mark": {"type": "text", "text": "阴量明显加长", "align": "left", "baseline": "middle", "fontSize": 23.5, "fontWeight": "bold", "color": "#e8251c"},
         "encoding": {
           "x": {"datum": 87.18, "type": "quantitative", "scale": {"domain": [-0.587, 111.53], "nice": false, "zero": false}, "axis": null},
           "y": {"datum": 15.17, "type": "quantitative", "scale": {"type": "log", "domain": [13.8, 36], "range": [395.5, 28.4], "nice": false}, "axis": null}}},
        {"data": {"values": [{}]}, "mark": {"type": "text", "text": "派发迹象", "align": "left", "baseline": "middle", "fontSize": 23.5, "fontWeight": "bold", "color": "#e8251c"},
         "encoding": {
           "x": {"datum": 87.18, "type": "quantitative", "scale": {"domain": [-0.587, 111.53], "nice": false, "zero": false}, "axis": null},
           "y": {"datum": 13.97, "type": "quantitative", "scale": {"type": "log", "domain": [13.8, 36], "range": [395.5, 28.4], "nice": false}, "axis": null}}},
        {"data": {"values": [{}]}, "mark": {"type": "text", "text": "平均股价", "align": "left", "baseline": "middle", "fontSize": 17, "fontWeight": "bold", "color": "#f0f0f0"},
         "encoding": {
           "x": {"datum": 106.6, "type": "quantitative", "scale": {"domain": [-0.587, 111.53], "nice": false, "zero": false}, "axis": null},
           "y": {"datum": 37.26, "type": "quantitative", "scale": {"type": "log", "domain": [13.8, 36], "range": [395.5, 28.4], "nice": false}, "axis": null}}},
        {"data": {"values": [{}]}, "mark": {"type": "text", "text": "30.49", "align": "left", "baseline": "middle", "fontSize": 15.5, "color": "#2fc052"},
         "encoding": {
           "x": {"datum": 103.9, "type": "quantitative", "scale": {"domain": [-0.587, 111.53], "nice": false, "zero": false}, "axis": null},
           "y": {"datum": 35.39, "type": "quantitative", "scale": {"type": "log", "domain": [13.8, 36], "range": [395.5, 28.4], "nice": false}, "axis": null}}},
        {"data": {"values": [{}]}, "mark": {"type": "text", "text": "A股总市值", "align": "left", "baseline": "middle", "fontSize": 12.5, "color": "#e0e0e0"},
         "encoding": {
           "x": {"datum": 104.08, "type": "quantitative", "scale": {"domain": [-0.587, 111.53], "nice": false, "zero": false}, "axis": null},
           "y": {"datum": 32.93, "type": "quantitative", "scale": {"type": "log", "domain": [13.8, 36], "range": [395.5, 28.4], "nice": false}, "axis": null}}},
        {"data": {"values": [{}]}, "mark": {"type": "text", "text": ["A 股成交", "B 股成交", "国债成交", "基金成交"], "lineHeight": 16, "align": "left", "baseline": "top", "fontSize": 12, "color": "#e0e0e0"},
         "encoding": {
           "x": {"datum": 104.08, "type": "quantitative", "scale": {"domain": [-0.587, 111.53], "nice": false, "zero": false}, "axis": null},
           "y": {"datum": 31.8, "type": "quantitative", "scale": {"type": "log", "domain": [13.8, 36], "range": [395.5, 28.4], "nice": false}, "axis": null}}},
        {"data": {"values": [{}]}, "mark": {"type": "text", "text": ["今日开盘", "昨日收盘", "平均涨幅", "指数换手", "指数振幅", "总成交额", "总成交量", "最高指数", "最低指数", "指数量比"], "lineHeight": 16.08, "align": "left", "baseline": "top", "fontSize": 12, "color": "#e0e0e0"},
         "encoding": {
           "x": {"datum": 104.08, "type": "quantitative", "scale": {"domain": [-0.587, 111.53], "nice": false, "zero": false}, "axis": null},
           "y": {"datum": 26.75, "type": "quantitative", "scale": {"type": "log", "domain": [13.8, 36], "range": [395.5, 28.4], "nice": false}, "axis": null}}},
        {"data": {"values": [{}]}, "mark": {"type": "text", "text": "板指类型", "align": "left", "baseline": "middle", "fontSize": 12, "color": "#e0e0e0"},
         "encoding": {
           "x": {"datum": 104.08, "type": "quantitative", "scale": {"domain": [-0.587, 111.53], "nice": false, "zero": false}, "axis": null},
           "y": {"datum": 17.32, "type": "quantitative", "scale": {"type": "log", "domain": [13.8, 36], "range": [395.5, 28.4], "nice": false}, "axis": null}}},
        {"data": {"values": [{}]}, "mark": {"type": "text", "text": "涨家数", "align": "left", "baseline": "middle", "fontSize": 12, "color": "#e0e0e0"},
         "encoding": {
           "x": {"datum": 104.08, "type": "quantitative", "scale": {"domain": [-0.587, 111.53], "nice": false, "zero": false}, "axis": null},
           "y": {"datum": 16.51, "type": "quantitative", "scale": {"type": "log", "domain": [13.8, 36], "range": [395.5, 28.4], "nice": false}, "axis": null}}},
        {"data": {"values": [{}]}, "mark": {"type": "text", "text": ["10:34", "10:34", "10:34", "10:34", "10:34", "10:34", "10:34", "10:34", "10:34", "10:35", "10:35", "10:35", "10:35", "10:35"], "lineHeight": 15.14, "align": "left", "baseline": "top", "fontSize": 12, "color": "#e0e0e0"},
         "encoding": {
           "x": {"datum": 104.08, "type": "quantitative", "scale": {"domain": [-0.587, 111.53], "nice": false, "zero": false}, "axis": null},
           "y": {"datum": 15.98, "type": "quantitative", "scale": {"type": "log", "domain": [13.8, 36], "range": [395.5, 28.4], "nice": false}, "axis": null}}}
      ]
    },
    {
      "layer": [
        {"mark": {"type": "bar", "width": 8.2, "strokeWidth": 1, "orient": "vertical"},
         "encoding": {
           "x": {"field": "i", "type": "quantitative", "scale": {"domain": [-0.587, 111.53], "nice": false, "zero": false}, "axis": null},
           "y": {"field": "vol", "type": "quantitative", "stack": null, "scale": {"domain": [0, 20], "range": [504, 413.5], "nice": false, "zero": false}, "axis": null},
           "fill": {"condition": [{"test": "datum.flag === '倍量'", "value": "#ff7a3c"}, {"test": "datum.flag === '天量'", "value": "#ffb41e"}, {"test": "datum.c < datum.o", "value": "#4ff5f5"}], "value": "#0d0c10"},
           "stroke": {"condition": [{"test": "datum.flag === '倍量'", "value": "#ff7a3c"}, {"test": "datum.flag === '天量'", "value": "#ffb41e"}, {"test": "datum.c < datum.o", "value": "#4ff5f5"}], "value": "#c8433c"}}},
        {"mark": {"type": "line", "color": "#a040d8", "strokeWidth": 1.5},
         "encoding": {
           "x": {"field": "i", "type": "quantitative", "scale": {"domain": [-0.587, 111.53], "nice": false, "zero": false}, "axis": null},
           "y": {"field": "m25", "type": "quantitative", "scale": {"domain": [0, 20], "range": [504, 413.5], "nice": false, "zero": false}, "axis": null}}},
        {"mark": {"type": "line", "color": "#d7c660", "strokeWidth": 1.2},
         "encoding": {
           "x": {"field": "i", "type": "quantitative", "scale": {"domain": [-0.587, 111.53], "nice": false, "zero": false}, "axis": null},
           "y": {"field": "m5", "type": "quantitative", "scale": {"domain": [0, 20], "range": [504, 413.5], "nice": false, "zero": false}, "axis": null}}},
        {"data": {"name": "arrows"}, "mark": {"type": "rule", "color": "#e0281f", "strokeWidth": 3},
         "encoding": {
           "x": {"field": "i0", "type": "quantitative", "scale": {"domain": [-0.587, 111.53], "nice": false, "zero": false}, "axis": null},
           "x2": {"field": "i1"},
           "y": {"field": "v0", "type": "quantitative", "scale": {"domain": [0, 20], "range": [504, 413.5], "nice": false, "zero": false}, "axis": null},
           "y2": {"field": "v1"}}},
        {"data": {"name": "arrows"}, "mark": {"type": "point", "shape": "M0,0L-3,-1.1L-3,1.1Z", "filled": true, "color": "#e0281f", "size": 100, "opacity": 1},
         "encoding": {
           "x": {"field": "i1", "type": "quantitative", "scale": {"domain": [-0.587, 111.53], "nice": false, "zero": false}, "axis": null},
           "y": {"field": "v1", "type": "quantitative", "scale": {"domain": [0, 20], "range": [504, 413.5], "nice": false, "zero": false}, "axis": null},
           "angle": {"field": "a", "type": "quantitative", "scale": {"domain": [1, 2, 3, 4], "range": [11.4, 8.1, 7.1, 18.3]}, "legend": null}}},
        {"data": {"values": [{}]}, "mark": {"type": "rect", "fill": "transparent", "stroke": "#d42a22", "strokeWidth": 3},
         "encoding": {
           "x": {"datum": 87.18, "type": "quantitative", "scale": {"domain": [-0.587, 111.53], "nice": false, "zero": false}, "axis": null},
           "x2": {"datum": 97.51},
           "y": {"datum": 20.6, "type": "quantitative", "scale": {"domain": [0, 20], "range": [504, 413.5], "nice": false, "zero": false}, "axis": null},
           "y2": {"datum": -1.66}}},
        {"data": {"values": [{}]}, "mark": {"type": "rule", "color": "#3a1616", "strokeWidth": 1},
         "encoding": {
           "x": {"datum": -0.587, "type": "quantitative", "scale": {"domain": [-0.587, 111.53], "nice": false, "zero": false}, "axis": null},
           "x2": {"datum": 99.44},
           "y": {"datum": 21.89, "type": "quantitative", "scale": {"domain": [0, 20], "range": [504, 413.5], "nice": false, "zero": false}, "axis": null}}},
        {"data": {"values": [{}]}, "mark": {"type": "rule", "color": "#3a1616", "strokeWidth": 1},
         "encoding": {
           "x": {"datum": -0.587, "type": "quantitative", "scale": {"domain": [-0.587, 111.53], "nice": false, "zero": false}, "axis": null},
           "x2": {"datum": 99.44},
           "y": {"datum": -0.88, "type": "quantitative", "scale": {"domain": [0, 20], "range": [504, 413.5], "nice": false, "zero": false}, "axis": null}}},
        {"data": {"values": [{}]}, "mark": {"type": "text", "text": "●", "align": "left", "baseline": "middle", "fontSize": 10.5, "color": "#777777"},
         "encoding": {
           "x": {"datum": -0.24, "type": "quantitative", "scale": {"domain": [-0.587, 111.53], "nice": false, "zero": false}, "axis": null},
           "y": {"datum": 19.85, "type": "quantitative", "scale": {"domain": [0, 20], "range": [504, 413.5], "nice": false, "zero": false}, "axis": null}}},
        {"data": {"values": [{}]}, "mark": {"type": "text", "text": "VOL_金(5,25)\u2002VVOL: 7036303048704.00", "align": "left", "baseline": "middle", "fontSize": 10.5, "color": "#d8d8d8"},
         "encoding": {
           "x": {"datum": 0.81, "type": "quantitative", "scale": {"domain": [-0.587, 111.53], "nice": false, "zero": false}, "axis": null},
           "y": {"datum": 19.85, "type": "quantitative", "scale": {"domain": [0, 20], "range": [504, 413.5], "nice": false, "zero": false}, "axis": null}}},
        {"data": {"values": [{}]}, "mark": {"type": "text", "text": "VOLUME: 7036303048704.00\u2002MAVOL1: 12863677661184.00", "align": "left", "baseline": "middle", "fontSize": 10.5, "color": "#d6c03e"},
         "encoding": {
           "x": {"datum": 17.98, "type": "quantitative", "scale": {"domain": [-0.587, 111.53], "nice": false, "zero": false}, "axis": null},
           "y": {"datum": 19.85, "type": "quantitative", "scale": {"domain": [0, 20], "range": [504, 413.5], "nice": false, "zero": false}, "axis": null}}},
        {"data": {"values": [{}]}, "mark": {"type": "text", "text": "MAVOL2: 12604416196608.00", "align": "left", "baseline": "middle", "fontSize": 10.5, "color": "#b23cd4"},
         "encoding": {
           "x": {"datum": 44.1, "type": "quantitative", "scale": {"domain": [-0.587, 111.53], "nice": false, "zero": false}, "axis": null},
           "y": {"datum": 19.85, "type": "quantitative", "scale": {"domain": [0, 20], "range": [504, 413.5], "nice": false, "zero": false}, "axis": null}}}
      ]
    },
    {
      "layer": [
        {"data": {"values": [{}]}, "mark": {"type": "rule", "color": "#bdbdbd", "strokeWidth": 1, "strokeDash": [1, 2.5]},
         "encoding": {
           "x": {"datum": -0.5, "type": "quantitative", "scale": {"domain": [-0.587, 111.53], "nice": false, "zero": false}, "axis": null},
           "x2": {"datum": 95.9},
           "y": {"datum": 87, "type": "quantitative", "scale": {"domain": [0, 100], "range": [660.2, 524], "nice": false, "zero": false}, "axis": null}}},
        {"mark": {"type": "line", "color": "#d6c03e", "strokeWidth": 1.2},
         "encoding": {
           "x": {"field": "i", "type": "quantitative", "scale": {"domain": [-0.587, 111.53], "nice": false, "zero": false}, "axis": null},
           "y": {"field": "t20", "type": "quantitative", "scale": {"domain": [0, 100], "range": [660.2, 524], "nice": false, "zero": false}, "axis": null}}},
        {"mark": {"type": "line", "color": "#a040d8", "strokeWidth": 1.2},
         "encoding": {
           "x": {"field": "i", "type": "quantitative", "scale": {"domain": [-0.587, 111.53], "nice": false, "zero": false}, "axis": null},
           "y": {"field": "t40", "type": "quantitative", "scale": {"domain": [0, 100], "range": [660.2, 524], "nice": false, "zero": false}, "axis": null}}},
        {"mark": {"type": "line", "color": "#e0e0e0", "strokeWidth": 1},
         "encoding": {
           "x": {"field": "i", "type": "quantitative", "scale": {"domain": [-0.587, 111.53], "nice": false, "zero": false}, "axis": null},
           "y": {"field": "t10", "type": "quantitative", "scale": {"domain": [0, 100], "range": [660.2, 524], "nice": false, "zero": false}, "axis": null}}},
        {"data": {"values": [{}]}, "mark": {"type": "text", "text": "100.0", "align": "right", "baseline": "middle", "fontSize": 11.5, "color": "#c8423c"},
         "encoding": {
           "x": {"datum": 103.03, "type": "quantitative", "scale": {"domain": [-0.587, 111.53], "nice": false, "zero": false}, "axis": null},
           "y": {"datum": 100, "type": "quantitative", "scale": {"domain": [0, 100], "range": [660.2, 524], "nice": false, "zero": false}, "axis": null}}},
        {"data": {"values": [{}]}, "mark": {"type": "text", "text": "●", "align": "left", "baseline": "middle", "fontSize": 10.5, "color": "#777777"},
         "encoding": {
           "x": {"datum": -0.24, "type": "quantitative", "scale": {"domain": [-0.587, 111.53], "nice": false, "zero": false}, "axis": null},
           "y": {"datum": 107.45, "type": "quantitative", "scale": {"domain": [0, 100], "range": [660.2, 524], "nice": false, "zero": false}, "axis": null}}},
        {"data": {"values": [{}]}, "mark": {"type": "text", "text": "TR情绪\u2002HTR10占比: -", "align": "left", "baseline": "middle", "fontSize": 10.5, "color": "#d8d8d8"},
         "encoding": {
           "x": {"datum": 0.9, "type": "quantitative", "scale": {"domain": [-0.587, 111.53], "nice": false, "zero": false}, "axis": null},
           "y": {"datum": 107.45, "type": "quantitative", "scale": {"domain": [0, 100], "range": [660.2, 524], "nice": false, "zero": false}, "axis": null}}},
        {"data": {"values": [{}]}, "mark": {"type": "text", "text": "HTR20占比: -", "align": "left", "baseline": "middle", "fontSize": 10.5, "color": "#d6c03e"},
         "encoding": {
           "x": {"datum": 10.01, "type": "quantitative", "scale": {"domain": [-0.587, 111.53], "nice": false, "zero": false}, "axis": null},
           "y": {"datum": 107.45, "type": "quantitative", "scale": {"domain": [0, 100], "range": [660.2, 524], "nice": false, "zero": false}, "axis": null}}},
        {"data": {"values": [{}]}, "mark": {"type": "text", "text": "HTR40占比: -", "align": "left", "baseline": "middle", "fontSize": 10.5, "color": "#b23cd4"},
         "encoding": {
           "x": {"datum": 15.88, "type": "quantitative", "scale": {"domain": [-0.587, 111.53], "nice": false, "zero": false}, "axis": null},
           "y": {"datum": 107.45, "type": "quantitative", "scale": {"domain": [0, 100], "range": [660.2, 524], "nice": false, "zero": false}, "axis": null}}},
        {"data": {"values": [{}]}, "mark": {"type": "text", "text": "沸点: 87.00\u2002相变: 50.00\u2002冰点: 13.00", "align": "left", "baseline": "middle", "fontSize": 10.5, "color": "#8a8a8a"},
         "encoding": {
           "x": {"datum": 21.66, "type": "quantitative", "scale": {"domain": [-0.587, 111.53], "nice": false, "zero": false}, "axis": null},
           "y": {"datum": 107.45, "type": "quantitative", "scale": {"domain": [0, 100], "range": [660.2, 524], "nice": false, "zero": false}, "axis": null}}}
      ]
    }
  ],
  "resolve": {"scale": {"y": "independent"}}
}
